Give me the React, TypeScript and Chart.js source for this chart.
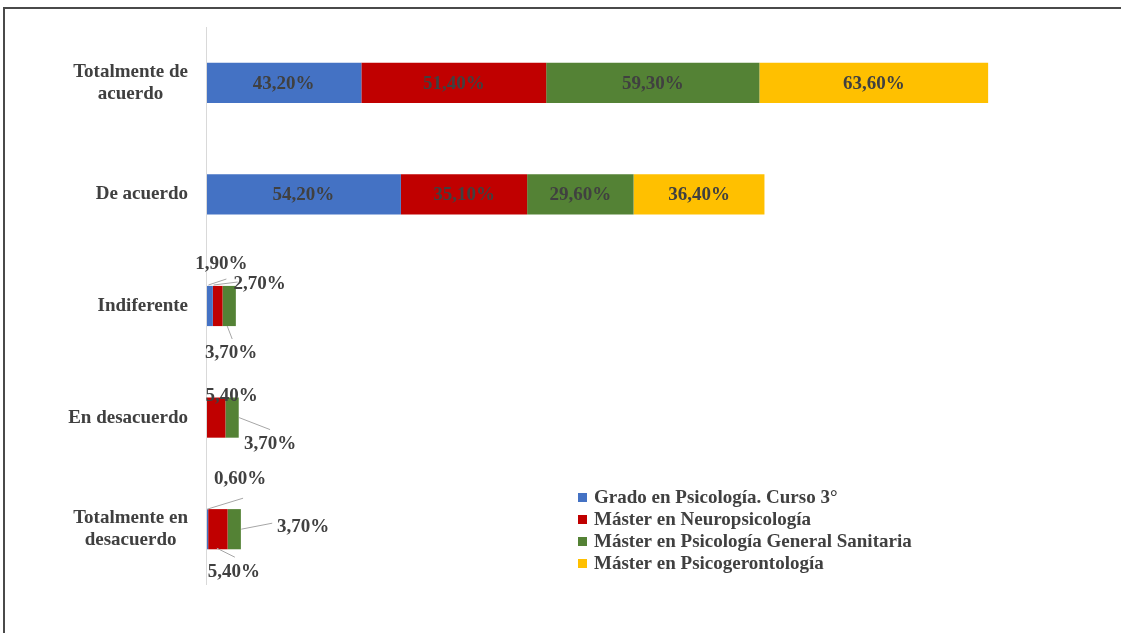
import React, { useEffect, useRef } from "react";
import { Chart, registerables } from "chart.js";

Chart.register(...registerables);

const categories: string[][] = [
  ["Totalmente de", "acuerdo"],
  ["De acuerdo"],
  ["Indiferente"],
  ["En desacuerdo"],
  ["Totalmente en", "desacuerdo"],
];

const seriesNames = [
  "Grado en Psicología. Curso 3°",
  "Máster en Neuropsicología",
  "Máster en Psicología General Sanitaria",
  "Máster en Psicogerontología",
];

const grado = [43.2, 54.2, 1.9, 0, 0.6];
const neuro = [51.4, 35.1, 2.7, 5.4, 5.4];
const sanitaria = [59.3, 29.6, 3.7, 3.7, 3.7];
const psicoger = [63.6, 36.4, 0, 0, 0];

const colors = ["#4472C4", "#C00000", "#548235", "#FFC000"];

// callout placement (label offset and leader line) for small segments, key "dataset-category"
const callouts: Record<string, { lx: number; ly: number; line?: number[] }> = {
  "0-2": { lx: 12, ly: -43, line: [-1, -21, 17, -27] },
  "1-2": { lx: 42, ly: -23, line: [-4, -21, 20, -24] },
  "2-2": { lx: 2, ly: 46, line: [-2, 20, 3, 33] },
  "1-3": { lx: 16, ly: -23 },
  "2-3": { lx: 38, ly: 25, line: [7, 0, 38, 12] },
  "0-4": { lx: 33, ly: -51, line: [0, -20, 36, -31] },
  "1-4": { lx: 16, ly: 42, line: [-1, 19, 17, 28] },
  "2-4": { lx: 69, ly: -3, line: [7, 0, 38, -6] },
};

const FONT = "bold 19px 'Liberation Serif', 'Times New Roman', serif";
const TEXT = "#404040";

const fmt = (v: number) => v.toFixed(2).replace(".", ",") + "%";

const drawPlugin = {
  id: "custom",
  afterDatasetsDraw(chart: any) {
    const ctx = chart.ctx;
    const area = chart.chartArea;
    const yScale = chart.scales.y;
    ctx.save();
    // axis line
    ctx.strokeStyle = "#d9d9d9";
    ctx.lineWidth = 1;
    ctx.beginPath();
    ctx.moveTo(Math.round(area.left) + 0.5, area.top);
    ctx.lineTo(Math.round(area.left) + 0.5, area.bottom);
    ctx.stroke();

    // category labels
    ctx.font = FONT;
    ctx.fillStyle = TEXT;
    ctx.textBaseline = "middle";
    const rightEdge = area.left - 18;
    categories.forEach((lines, i) => {
      const cy = yScale.getPixelForValue(i);
      const widths = lines.map((l) => ctx.measureText(l).width);
      const maxW = Math.max(...widths);
      const lh = 22;
      const startY = cy - ((lines.length - 1) * lh) / 2;
      lines.forEach((l, j) => {
        ctx.textAlign = "center";
        ctx.fillText(l, rightEdge - maxW / 2, startY + j * lh);
      });
    });

    // data labels
    chart.data.datasets.forEach((ds: any, di: number) => {
      const meta = chart.getDatasetMeta(di);
      meta.data.forEach((bar: any, ci: number) => {
        const v = ds.data[ci];
        if (!v) return;
        const cx = (bar.x + bar.base) / 2;
        const cy = bar.y;
        const co = callouts[di + "-" + ci];
        ctx.font = FONT;
        ctx.fillStyle = TEXT;
        ctx.textAlign = "center";
        ctx.textBaseline = "middle";
        if (co) {
          if (co.line) {
            ctx.strokeStyle = "#a6a6a6";
            ctx.lineWidth = 1;
            ctx.beginPath();
            ctx.moveTo(cx + co.line[0], cy + co.line[1]);
            ctx.lineTo(cx + co.line[2], cy + co.line[3]);
            ctx.stroke();
          }
          ctx.fillText(fmt(v), cx + co.lx, cy + co.ly + 1);
        } else {
          ctx.fillText(fmt(v), cx, cy + 1);
        }
      });
    });

    // legend
    const lx = 578;
    const ly0 = 498;
    seriesNames.forEach((name, i) => {
      const y = ly0 + i * 22;
      ctx.fillStyle = colors[i];
      ctx.fillRect(lx, y - 5, 9, 9);
      ctx.fillStyle = TEXT;
      ctx.textAlign = "left";
      ctx.textBaseline = "middle";
      ctx.font = FONT;
      ctx.fillText(name, lx + 16, y);
    });
    ctx.restore();
  },
};

export default function App() {
  const ref = useRef<HTMLCanvasElement>(null);
  useEffect(() => {
    if (!ref.current) return;
    const series = [grado, neuro, sanitaria, psicoger];
    const chart = new Chart(ref.current, {
      type: "bar",
      data: {
        labels: categories.map((c) => c.join(" ")),
        datasets: series.map((d, i) => ({
          label: seriesNames[i],
          data: d,
          backgroundColor: colors[i],
          borderWidth: 0,
          categoryPercentage: 1,
          barPercentage: 0.36,
        })),
      },
      options: {
        indexAxis: "y",
        animation: false,
        responsive: false,
        maintainAspectRatio: false,
        layout: { padding: { left: 206, top: 27, bottom: 48, right: 16 } },
        plugins: { legend: { display: false }, tooltip: { enabled: false } },
        scales: {
          x: { stacked: true, display: false, min: 0, max: 250 },
          y: { stacked: true, display: false },
        },
      },
      plugins: [drawPlugin],
    });
    return () => chart.destroy();
  }, []);
  return (
    <div style={{ position: "fixed", left: 0, top: 0, width: 1121, height: 633, background: "#fff", overflow: "hidden" }}>
      <canvas ref={ref} width={1121} height={633} style={{ position: "absolute", left: 0, top: 0 }} />
      <div
        style={{
          position: "absolute",
          left: 3,
          top: 7,
          width: 1200,
          height: 700,
          borderTop: "2px solid #4a4a4a",
          borderLeft: "2px solid #4a4a4a",
          pointerEvents: "none",
        }}
      />
    </div>
  );
}
